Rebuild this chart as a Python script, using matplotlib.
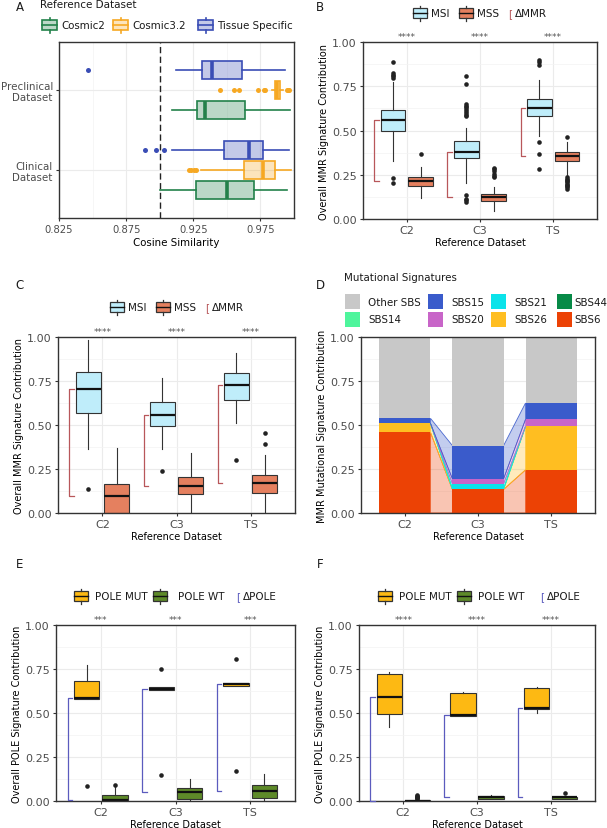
import matplotlib
matplotlib.use('Agg')
import matplotlib.pyplot as plt
from matplotlib.patches import Rectangle
from matplotlib.colors import to_rgba
from matplotlib.ticker import FixedLocator

# ---------------- DATA ----------------
# Panel A (cosine similarity, horizontal boxplots)
a_groups = ['Preclinical\nDataset', 'Clinical\nDataset']
a_refs = ['Tissue Specific', 'Cosmic3.2', 'Cosmic2']
a_legend_order = ['Cosmic2', 'Cosmic3.2', 'Tissue Specific']
a_colors = {'Cosmic2': '#23814A', 'Cosmic3.2': '#F6A823', 'Tissue Specific': '#3A4DB5'}
a_whislo = {'Tissue Specific': [0.912, 0.909], 'Cosmic3.2': [0.9835, 0.9305], 'Cosmic2': [0.909, 0.900]}
a_q1 = {'Tissue Specific': [0.9318, 0.9479], 'Cosmic3.2': [0.9855, 0.9626], 'Cosmic2': [0.9278, 0.9273]}
a_med = {'Tissue Specific': [0.9387, 0.9668], 'Cosmic3.2': [0.9875, 0.9770], 'Cosmic2': [0.9340, 0.9504]}
a_q3 = {'Tissue Specific': [0.9616, 0.9772], 'Cosmic3.2': [0.9893, 0.9862], 'Cosmic2': [0.9633, 0.9700]}
a_whishi = {'Tissue Specific': [0.9936, 0.9963], 'Cosmic3.2': [0.9915, 0.9976], 'Cosmic2': [0.9973, 0.9949]}
a_fliers = {'Tissue Specific': [[0.8466], [0.8893, 0.8975, 0.9032]],
            'Cosmic3.2': [[0.9447, 0.9554, 0.9588, 0.9732, 0.9775, 0.9787, 0.9945, 0.9955, 0.9965],
                          [0.9215, 0.9235, 0.9255, 0.9270]],
            'Cosmic2': [[], []]}
a_threshold = 0.9
a_xticks = [0.825, 0.875, 0.925, 0.975]

# Shared categories
ref_cats = ['C2', 'C3', 'TS']
y_ticks = [0.0, 0.25, 0.5, 0.75, 1.0]

# Panel B (MSI / MSS, preclinical)
b_msi_whislo = [0.329, 0.206, 0.470]
b_msi_q1 = [0.499, 0.344, 0.584]
b_msi_med = [0.561, 0.380, 0.628]
b_msi_q3 = [0.616, 0.439, 0.679]
b_msi_whishi = [0.773, 0.513, 0.783]
b_msi_fliers = [[0.887, 0.826, 0.815, 0.807, 0.796, 0.234, 0.204],
                [0.808, 0.764, 0.650, 0.640, 0.630, 0.620, 0.610, 0.600, 0.590, 0.580, 0.134, 0.115, 0.105, 0.096],
                [0.900, 0.887, 0.868, 0.433, 0.370, 0.282]]
b_mss_whislo = [0.121, 0.045, 0.250]
b_mss_q1 = [0.189, 0.102, 0.325]
b_mss_med = [0.216, 0.125, 0.357]
b_mss_q3 = [0.238, 0.144, 0.376]
b_mss_whishi = [0.291, 0.183, 0.433]
b_mss_fliers = [[0.367],
                [0.290, 0.280, 0.270, 0.255, 0.245, 0.235],
                [0.461, 0.235, 0.228, 0.221, 0.214, 0.207, 0.200, 0.193, 0.186, 0.179, 0.172]]
b_stars = ['****', '****', '****']

# Panel C (MSI / MSS, clinical)
c_msi_whislo = [0.366, 0.366, 0.511]
c_msi_q1 = [0.568, 0.492, 0.642]
c_msi_med = [0.706, 0.559, 0.725]
c_msi_q3 = [0.801, 0.629, 0.797]
c_msi_whishi = [0.981, 0.769, 0.909]
c_msi_fliers = [[0.138], [0.239], [0.303]]
c_mss_whislo = [0.0, 0.0, 0.0]
c_mss_q1 = [0.0, 0.108, 0.114]
c_mss_med = [0.095, 0.152, 0.172]
c_mss_q3 = [0.165, 0.205, 0.214]
c_mss_whishi = [0.371, 0.343, 0.328]
c_mss_fliers = [[], [], [0.455, 0.392]]
c_stars = ['****', '****', '****']

# Panel D (stacked signature contributions, bottom to top)
d_sigs = ['SBS6', 'SBS26', 'SBS44', 'SBS14', 'SBS21', 'SBS20', 'SBS15', 'Other SBS']
d_values = {
    'SBS6': [0.458, 0.134, 0.245],
    'SBS26': [0.051, 0.000, 0.247],
    'SBS44': [0.000, 0.000, 0.000],
    'SBS14': [0.000, 0.004, 0.000],
    'SBS21': [0.000, 0.028, 0.000],
    'SBS20': [0.000, 0.028, 0.040],
    'SBS15': [0.029, 0.189, 0.093],
    'Other SBS': [0.462, 0.617, 0.375],
}
d_colors = {'Other SBS': '#C8C8C8', 'SBS15': '#3A5BCB', 'SBS21': '#0BE3EA', 'SBS44': '#078A47',
            'SBS14': '#4EF59C', 'SBS20': '#C865C8', 'SBS26': '#FFBE21', 'SBS6': '#EC4205'}
d_legend = [['Other SBS', 'SBS15', 'SBS21', 'SBS44'], ['SBS14', 'SBS20', 'SBS26', 'SBS6']]

# Panel E (POLE, preclinical)
e_mut_whislo = [0.582, 0.629, 0.655]
e_mut_q1 = [0.582, 0.629, 0.655]
e_mut_med = [0.587, 0.638, 0.663]
e_mut_q3 = [0.682, 0.650, 0.668]
e_mut_whishi = [0.773, 0.650, 0.668]
e_mut_fliers = [[0.085], [0.748, 0.148], [0.805, 0.171]]
e_wt_whislo = [0.0, 0.0, 0.0]
e_wt_q1 = [0.0, 0.014, 0.019]
e_wt_med = [0.003, 0.051, 0.057]
e_wt_q3 = [0.034, 0.076, 0.089]
e_wt_whishi = [0.080, 0.127, 0.152]
e_wt_fliers = [[0.092], [], []]
e_stars = ['***', '***', '***']

# Panel F (POLE, clinical)
f_mut_whislo = [0.423, 0.485, 0.502]
f_mut_q1 = [0.493, 0.485, 0.521]
f_mut_med = [0.591, 0.489, 0.527]
f_mut_q3 = [0.724, 0.612, 0.644]
f_mut_whishi = [0.733, 0.621, 0.648]
f_mut_fliers = [[], [], []]
f_wt_whislo = [0.0, 0.012, 0.010]
f_wt_q1 = [0.0, 0.013, 0.014]
f_wt_med = [0.002, 0.020, 0.020]
f_wt_q3 = [0.005, 0.027, 0.025]
f_wt_whishi = [0.008, 0.036, 0.030]
f_wt_fliers = [[0.012, 0.016, 0.020, 0.024, 0.028, 0.032], [], [0.048]]
f_stars = ['****', '****', '****']

# ---------------- STYLE ----------------
W, H = 607, 829
fig = plt.figure(figsize=(W / 100, H / 100), dpi=100)
plt.rcParams['font.family'] = ['DejaVu Sans']

GRID = '#EBEBEB'
GRID_MINOR = '#F3F3F3'
TICKC = '#4D4D4D'
FRAME = '#333333'
MSI_C = '#BFEDFA'
MSS_C = '#E5805F'
MMR_BR = '#B8575A'
MUT_C = '#FDB913'
WT_C = '#5E8A29'
POLE_BR = '#5B5BBE'
TITLE_FS = 7
TICK_FS = 8
LEG_FS = 7.5


def add_ax(l, r, t, b):
    return fig.add_axes([l / W, 1 - b / H, (r - l) / W, (b - t) / H])


def style(ax, tick_fs=TICK_FS):
    for s in ax.spines.values():
        s.set_color(FRAME)
        s.set_linewidth(1.0)
    ax.tick_params(which='major', length=2.5, width=0.8, color=FRAME, labelsize=tick_fs,
                   labelcolor=TICKC, pad=2)
    ax.tick_params(which='minor', length=0)
    ax.set_axisbelow(True)
    ax.grid(True, which='major', color=GRID, lw=0.8)
    ax.grid(True, which='minor', color=GRID_MINOR, lw=0.5)


def stats_list(whislo, q1, med, q3, whishi, fliers):
    return [dict(whislo=a, q1=b, med=c, q3=d, whishi=e, fliers=f)
            for a, b, c, d, e, f in zip(whislo, q1, med, q3, whishi, fliers)]


def boxes(ax, stats, pos, width, fc, ec, medc, lw=0.8, medlw=1.6, fl_color='#222222', ms=3.3,
          orientation='vertical'):
    ax.bxp(stats, positions=pos, widths=width, patch_artist=True, showcaps=False,
           orientation=orientation, manage_ticks=False,
           boxprops=dict(facecolor=fc, edgecolor=ec, linewidth=lw),
           medianprops=dict(color=medc, linewidth=medlw, solid_capstyle='butt'),
           whiskerprops=dict(color=ec, linewidth=lw),
           flierprops=dict(marker='o', markerfacecolor=fl_color, markeredgecolor='none',
                           markersize=ms))


def cat_axes(ax, ylabel):
    style(ax)
    ax.set_xlim(0.4, 3.6)
    ax.set_ylim(0, 1)
    ax.set_xticks([1, 2, 3])
    ax.set_xticklabels(ref_cats)
    ax.set_yticks(y_ticks)
    ax.set_yticklabels(['%.2f' % v for v in y_ticks])
    ax.yaxis.set_minor_locator(FixedLocator([0.125, 0.375, 0.625, 0.875]))
    ax.set_xlabel('Reference Dataset', fontsize=TITLE_FS, labelpad=1.5)
    ax.set_ylabel(ylabel, fontsize=TITLE_FS, labelpad=2)


def bracket(ax, x, top, bot, color):
    ax.plot([x + 0.06, x, x, x + 0.06], [top, top, bot, bot], color=color, lw=0.9,
            clip_on=False, zorder=3)


def stars(ax, labels):
    for i, s in enumerate(labels):
        ax.text(i + 1, 1.03, s, ha='center', va='center', fontsize=6.5, color='#555555',
                clip_on=False)


def two_group_panel(ax, s1, s2, c1, c2, med1, med2, brc, star_labels, ylabel):
    cat_axes(ax, ylabel)
    pos = [1, 2, 3]
    boxes(ax, s1, [p - 0.19 for p in pos], 0.34, c1, FRAME, '#111111')
    boxes(ax, s2, [p + 0.19 for p in pos], 0.34, c2, FRAME, '#111111')
    for p, a, b in zip(pos, med1, med2):
        bracket(ax, p - 0.445, a, b, brc)
    stars(ax, star_labels)


# overlay for legends / panel letters
ov = fig.add_axes([0, 0, 1, 1], zorder=10)
ov.set_xlim(0, W)
ov.set_ylim(H, 0)
ov.set_autoscale_on(False)
ov.axis('off')


def key(x, y, fc, ec, medc, w=14, h=10, lw=0.9, mlw=1.0):
    ov.add_patch(Rectangle((x, y - h / 2), w, h, facecolor=fc, edgecolor=ec, lw=lw))
    ov.plot([x, x + w], [y, y], color=medc, lw=mlw)
    ov.plot([x + w / 2] * 2, [y - h / 2 - 2.5, y - h / 2], color=ec, lw=lw)
    ov.plot([x + w / 2] * 2, [y + h / 2, y + h / 2 + 2.5], color=ec, lw=lw)


def otext(x, y, s, fs=LEG_FS, color='#1a1a1a', **kw):
    ov.text(x, y, s, fontsize=fs, color=color, va='center', ha=kw.pop('ha', 'left'), **kw)


for lab, (x, y) in zip('ABCDEF', [(20, 7), (320, 7), (20, 285), (320, 285), (20, 565), (320, 565)]):
    otext(x, y, lab, fs=8.5, ha='center')

# ---------------- PANEL A ----------------
axA = add_ax(59, 294, 43, 219)
style(axA, tick_fs=7.2)
offsets = {'Tissue Specific': -0.25, 'Cosmic3.2': 0.0, 'Cosmic2': 0.25}
axA.axvline(a_threshold, color='#222222', lw=1.0, ls=(0, (4.5, 2.5)), zorder=1)
for ref in a_refs:
    col = a_colors[ref]
    st = stats_list(a_whislo[ref], a_q1[ref], a_med[ref], a_q3[ref], a_whishi[ref], a_fliers[ref])
    boxes(axA, st, [g + 1 + offsets[ref] for g in range(len(a_groups))], 0.23,
          to_rgba(col, 0.3), col, col, lw=1.2, medlw=2.6, fl_color=col, ms=3.6,
          orientation='horizontal')
axA.set_xlim(0.825, 1.0)
axA.set_ylim(2.6, 0.4)
axA.set_xticks(a_xticks)
axA.set_xticklabels(['%.3f' % v for v in a_xticks])
axA.xaxis.set_minor_locator(FixedLocator([0.85, 0.9, 0.95]))
axA.set_yticks([1, 2])
axA.set_yticklabels(a_groups, fontsize=7.4, linespacing=1.15)
axA.set_xlabel('Cosine Similarity', fontsize=7.4, labelpad=2)

otext(40, 5, 'Reference Dataset', fs=7.5)
for ref, kx in zip(a_legend_order, [42, 113, 198]):
    col = a_colors[ref]
    key(kx, 26, to_rgba(col, 0.3), col, col, w=15, lw=1.2, mlw=1.2)
    otext(kx + 19, 26, ref, fs=7.4)

# ---------------- PANEL B ----------------
axB = add_ax(363, 597, 43, 220)
two_group_panel(axB,
                stats_list(b_msi_whislo, b_msi_q1, b_msi_med, b_msi_q3, b_msi_whishi, b_msi_fliers),
                stats_list(b_mss_whislo, b_mss_q1, b_mss_med, b_mss_q3, b_mss_whishi, b_mss_fliers),
                MSI_C, MSS_C, b_msi_med, b_mss_med, MMR_BR, b_stars,
                'Overall MMR Signature Contribution')


def mmr_legend(x0, y):
    key(x0, y, MSI_C, FRAME, '#111111')
    otext(x0 + 18, y, 'MSI')
    key(x0 + 46, y, MSS_C, FRAME, '#111111')
    otext(x0 + 64, y, 'MSS')
    otext(x0 + 95, y, '[', color=MMR_BR)
    otext(x0 + 102, y, 'ΔMMR')


mmr_legend(413, 14)

# ---------------- PANEL C ----------------
axC = add_ax(58, 295, 338, 514)
two_group_panel(axC,
                stats_list(c_msi_whislo, c_msi_q1, c_msi_med, c_msi_q3, c_msi_whishi, c_msi_fliers),
                stats_list(c_mss_whislo, c_mss_q1, c_mss_med, c_mss_q3, c_mss_whishi, c_mss_fliers),
                MSI_C, MSS_C, c_msi_med, c_mss_med, MMR_BR, c_stars,
                'Overall MMR Signature Contribution')
mmr_legend(110, 308)

# ---------------- PANEL D ----------------
axD = add_ax(361, 595, 338, 514)
cat_axes(axD, 'MMR Mutational Signature Contribution')
xs = [1, 2, 3]
bw = 0.7
bottoms = [0.0, 0.0, 0.0]
layers = {}
for sig in d_sigs:
    vals = d_values[sig]
    axD.bar(xs, vals, bottom=bottoms, width=bw, color=d_colors[sig], linewidth=0, zorder=2)
    layers[sig] = (list(bottoms), [b + v for b, v in zip(bottoms, vals)])
    bottoms = [b + v for b, v in zip(bottoms, vals)]
for sig in d_sigs[:-1]:
    lo, hi = layers[sig]
    col = d_colors[sig]
    for i in range(len(xs) - 1):
        if d_values[sig][i] == 0 and d_values[sig][i + 1] == 0:
            continue
        xl, xr = xs[i] + bw / 2, xs[i + 1] - bw / 2
        axD.fill([xl, xl, xr, xr], [lo[i], hi[i], hi[i + 1], lo[i + 1]],
                 facecolor=to_rgba(col, 0.3), edgecolor=to_rgba(col, 0.9), lw=0.6, zorder=1.5)
otext(344, 278, 'Mutational Signatures', fs=7.4)
col_x = [345, 428, 491, 557]
row_y = [302.5, 320]
for r, row in enumerate(d_legend):
    for c, sig in enumerate(row):
        ov.add_patch(Rectangle((col_x[c], row_y[r] - 7.5), 15, 15, facecolor=d_colors[sig], lw=0))
        otext(col_x[c] + 23 if c != 3 else col_x[c] + 17, row_y[r], sig, fs=7.4)

# ---------------- PANEL E ----------------
axE = add_ax(56, 295, 626, 802)
two_group_panel(axE,
                stats_list(e_mut_whislo, e_mut_q1, e_mut_med, e_mut_q3, e_mut_whishi, e_mut_fliers),
                stats_list(e_wt_whislo, e_wt_q1, e_wt_med, e_wt_q3, e_wt_whishi, e_wt_fliers),
                MUT_C, WT_C, e_mut_med, e_wt_med, POLE_BR, e_stars,
                'Overall POLE Signature Contribution')


def pole_legend(x0, y, gap):
    key(x0, y, MUT_C, FRAME, '#111111')
    otext(x0 + 21, y, 'POLE MUT')
    key(x0 + 79, y, WT_C, FRAME, '#111111')
    otext(x0 + 79 + 21 + gap, y, 'POLE WT')
    otext(x0 + 162, y, '[', color=POLE_BR)
    otext(x0 + 169, y, 'ΔPOLE')


pole_legend(74, 597, 4)

# ---------------- PANEL F ----------------
axF = add_ax(359, 595, 626, 802)
two_group_panel(axF,
                stats_list(f_mut_whislo, f_mut_q1, f_mut_med, f_mut_q3, f_mut_whishi, f_mut_fliers),
                stats_list(f_wt_whislo, f_wt_q1, f_wt_med, f_wt_q3, f_wt_whishi, f_wt_fliers),
                MUT_C, WT_C, f_mut_med, f_wt_med, POLE_BR, f_stars,
                'Overall POLE Signature Contribution')
pole_legend(378, 597, 0)

fig.savefig('out.png', dpi=100, facecolor='white')
